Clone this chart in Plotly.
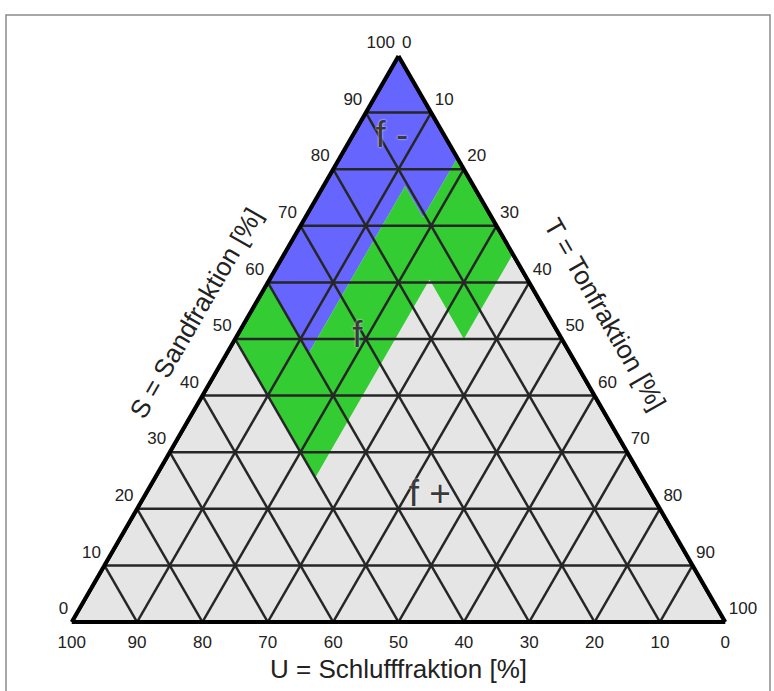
import plotly.graph_objects as go

# ---------------- data ----------------
ticks = list(range(0, 101, 10))
grid_vals = list(range(10, 100, 10))

# class polygons in (S = Sand, T = Ton); U = 100 - S - T
blue_S = [100, 60, 47.5, 77, 71.5, 82]
blue_T = [0, 0, 12.5, 12.5, 18, 18]

green_S = [60, 47.5, 77, 71.5, 82, 65, 50, 60.5, 25.5, 50]
green_T = [0, 12.5, 12.5, 18, 18, 35, 35, 24.5, 24.5, 0]

class_labels = ["f -", "f", "f +"]
class_S = [85.6, 50.2, 22.2]
class_T = [6.2, 18.6, 43.7]

BLUE = "#6666FF"
GREEN = "#33CC33"
GRAY = "#E5E5E5"
FONT = "Liberation Sans"


def rest(S, T):
    return [None if (s is None) else 100 - s - t for s, t in zip(S, T)]


fig = go.Figure()

# filled classes
fig.add_trace(go.Scatterternary(
    a=blue_S, b=rest(blue_S, blue_T), c=blue_T, mode="lines", fill="toself",
    fillcolor=BLUE, line=dict(width=0, color=BLUE), hoverinfo="skip"))
fig.add_trace(go.Scatterternary(
    a=green_S, b=rest(green_S, green_T), c=green_T, mode="lines", fill="toself",
    fillcolor=GREEN, line=dict(width=0, color=GREEN), hoverinfo="skip"))

# grid lines
ga, gb, gc = [], [], []
for v in grid_vals:
    ga += [v, v, None]; gb += [100 - v, 0, None]; gc += [0, 100 - v, None]      # const S
    ga += [0, 100 - v, None]; gb += [100 - v, 0, None]; gc += [v, v, None]      # const T
    ga += [0, 100 - v, None]; gb += [v, v, None]; gc += [100 - v, 0, None]      # const U
fig.add_trace(go.Scatterternary(
    a=ga, b=gb, c=gc, mode="lines", line=dict(color="#262626", width=2.5),
    hoverinfo="skip", cliponaxis=False))

# outer border
fig.add_trace(go.Scatterternary(
    a=[100, 0, 0, 100, 0], b=[0, 100, 0, 0, 100], c=[0, 0, 100, 0, 0], mode="lines",
    line=dict(color="black", width=4), hoverinfo="skip", cliponaxis=False))

tick_font = dict(family=FONT, size=17, color="#222222")
inv = "rgba(0,0,0,0)"

# S axis labels (left edge)
fig.add_trace(go.Scatterternary(
    a=ticks, b=[100 - t for t in ticks], c=[0] * len(ticks),
    mode="markers+text", text=[str(t) for t in ticks], textposition="top left",
    marker=dict(size=4, color=inv), textfont=tick_font, hoverinfo="skip", cliponaxis=False))
# T axis labels (right edge)
fig.add_trace(go.Scatterternary(
    a=[100 - t for t in ticks], b=[0] * len(ticks), c=ticks,
    mode="markers+text", text=[str(t) for t in ticks], textposition="top right",
    marker=dict(size=4, color=inv), textfont=tick_font, hoverinfo="skip", cliponaxis=False))
# U axis labels (bottom edge)
fig.add_trace(go.Scatterternary(
    a=[0] * len(ticks), b=ticks, c=[100 - t for t in ticks],
    mode="markers+text", text=[str(t) for t in ticks], textposition="bottom center",
    marker=dict(size=19, color=inv), textfont=tick_font, hoverinfo="skip", cliponaxis=False))

# class labels
fig.add_trace(go.Scatterternary(
    a=class_S, b=rest(class_S, class_T), c=class_T, mode="text",
    text=class_labels, textposition="middle center",
    textfont=dict(family=FONT, size=37, color="#3a3a3a",
                  shadow="0px 0px 2px white"),
    hoverinfo="skip", cliponaxis=False))

W, H = 774, 691
axis_off = dict(showgrid=False, showticklabels=False, ticks="", showline=True,
                linecolor="black", linewidth=4, layer="above traces",
                title=dict(text=""))

fig.update_layout(
    width=W, height=H, margin=dict(l=0, r=0, t=0, b=0),
    paper_bgcolor="white", showlegend=False,
    ternary=dict(
        sum=100, bgcolor=GRAY,
        domain=dict(x=[71 / W, 726 / W], y=[(H - 622) / H, (H - 56) / H]),
        aaxis=axis_off, baxis=axis_off, caxis=axis_off,
    ),
    annotations=[
        dict(text="U = Schlufffraktion [%]", x=398.5 / W, y=1 - 669 / H, xref="paper", yref="paper",
             showarrow=False, xanchor="center", yanchor="middle",
             font=dict(family=FONT, size=26, color="#222222")),
        dict(text="S = Sandfraktion [%]", x=196 / W, y=1 - 313 / H, xref="paper", yref="paper",
             showarrow=False, xanchor="center", yanchor="middle", textangle=-60,
             font=dict(family=FONT, size=26, color="#222222")),
        dict(text="T = Tonfraktion [%]", x=605 / W, y=1 - 314 / H, xref="paper", yref="paper",
             showarrow=False, xanchor="center", yanchor="middle", textangle=60,
             font=dict(family=FONT, size=26, color="#222222")),
    ],
    shapes=[dict(type="rect", xref="paper", yref="paper", x0=6 / W, x1=770 / W,
                 y0=-0.1, y1=1 - 15 / H, line=dict(color="#8a8a8a", width=1.5),
                 fillcolor="rgba(0,0,0,0)")],
)

fig.write_html("out.html", config={"displayModeBar": False},
               post_script="document.body.style.margin='0';")
